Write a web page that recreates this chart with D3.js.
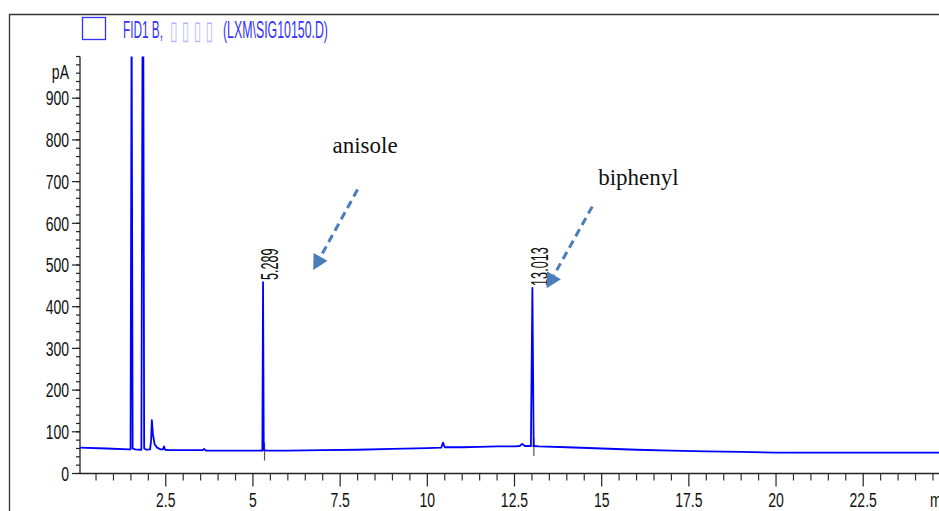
<!DOCTYPE html>
<html><head><meta charset="utf-8">
<script src="https://cdn.jsdelivr.net/npm/d3@7"></script>
<style>
html,body{margin:0;padding:0;background:#fff;}
svg{display:block;}
</style></head>
<body>
<svg id="chart" width="939" height="511"></svg>
<script>
// ---- data ----
const traceTime = [0, 0.8, 1.45, 1.49, 1.52, 1.55, 1.62, 1.8, 1.835, 1.855, 1.88, 1.95, 2.05, 2.08, 2.1, 2.13, 2.18, 2.25, 2.35, 2.42, 2.45, 2.48, 2.6, 3.0, 3.55, 3.6, 3.65, 4.2, 4.7, 5.2, 5.27, 5.289, 5.31, 5.4, 6.0, 7.0, 8.0, 9.0, 10.0, 10.4, 10.45, 10.5, 11.0, 11.5, 12.0, 12.5, 12.65, 12.72, 12.8, 12.97, 13.013, 13.05, 13.2, 14.0, 15.0, 16.0, 17.0, 18.0, 19.0, 20.0, 21.0, 22.0, 23.0, 24.0, 25.0];
const tracePA   = [62, 60, 58, 58, 1100, 60, 58, 57, 1100, 1100, 60, 57, 58, 80, 128, 95, 70, 62, 58, 58, 65, 57, 56, 56, 56, 59, 55, 55, 55, 55, 55, 459, 56, 55, 55, 56, 57, 59, 61, 62, 74, 63, 63, 64, 65, 65, 66, 71, 66, 66, 445, 66, 65, 63, 60, 57, 55, 53, 52, 50, 50, 50, 50, 50, 50];
const peakTimes  = [5.289, 13.013];
const peakHeights = [459, 445];
const peakLabels = ["5.289", "13.013"];
const xMajorTicks = [2.5, 5, 7.5, 10, 12.5, 15, 17.5, 20, 22.5];
const xTickLabels = ["2.5", "5", "7.5", "10", "12.5", "15", "17.5", "20", "22.5"];
const yMajorTicks = [0, 100, 200, 300, 400, 500, 600, 700, 800, 900];
const yTickLabels = ["0", "100", "200", "300", "400", "500", "600", "700", "800", "900"];
const titleParts = ["FID1 B,", "\u25AF \u25AF \u25AF \u25AF", "(LXM\\SIG10150.D)"];
const annoNames = ["anisole", "biphenyl"];
const annoTextPos = [[7.28, 768], [14.9, 692]];
const annoArrowFrom = [[8.0, 681], [14.73, 640]];
const annoArrowTo = [[6.73, 488], [13.42, 444]];

// ---- setup ----
const svg = d3.select("#chart");
const W = 939, H = 511;
const x = d3.scaleLinear().domain([0, 25]).range([78.6, 950.4]);
const y = d3.scaleLinear().domain([0, 1000]).range([473.5, 56.5]);
const sans = "'Liberation Sans', Arial, sans-serif";
const serif = "'Liberation Serif', 'Times New Roman', serif";

function condense(sel, k) {
  sel.each(function () {
    const w = this.getComputedTextLength();
    d3.select(this).attr("textLength", w * k).attr("lengthAdjust", "spacingAndGlyphs");
  });
}

svg.append("rect").attr("width", W).attr("height", H).attr("fill", "#fff");

// frame
svg.append("path").attr("d", `M9.5,${H} L9.5,14.5 L${W},14.5`)
  .attr("fill", "none").attr("stroke", "#333").attr("stroke-width", 1.3);

// title / legend
svg.append("rect").attr("x", 82.5).attr("y", 17.5).attr("width", 23).attr("height", 22)
  .attr("fill", "none").attr("stroke", "#3333ff").attr("stroke-width", 1.3);
const titleX = [123, 170, 223], titleW = [40, 43, 105];
const titleFill = ["#3333ff", "#b4b8ff", "#3333ff"];
svg.selectAll("text.tt").data(titleParts).join("text").attr("class", "tt")
  .attr("font-family", (d, i) => i === 1 ? "'DejaVu Sans', sans-serif" : sans)
  .attr("font-size", (d, i) => i === 1 ? 26 : 23.5)
  .attr("fill", (d, i) => titleFill[i])
  .text(d => d)
  .each(function (d, i) {
    const w = this.getComputedTextLength();
    d3.select(this).attr("transform", `translate(${titleX[i]},${i === 1 ? 38.5 : 37.5}) scale(${titleW[i] / w},1)`);
  });

// y axis
const yAxisG = svg.append("g").attr("transform", "translate(80,0)");
yAxisG.append("line").attr("x1", 0).attr("x2", 0).attr("y1", y(0)).attr("y2", y(1000))
  .attr("stroke", "#222").attr("stroke-width", 1.3);
const yMinor = d3.range(0, 1001, 20);
yAxisG.selectAll("line.ymin").data(yMinor).join("line").attr("class", "ymin")
  .attr("x1", -4).attr("x2", 0).attr("y1", d => y(d)).attr("y2", d => y(d))
  .attr("stroke", "#222").attr("stroke-width", 1.2);
yAxisG.selectAll("line.ymaj").data(yMajorTicks).join("line").attr("class", "ymaj")
  .attr("x1", -8).attr("x2", 0).attr("y1", d => y(d)).attr("y2", d => y(d))
  .attr("stroke", "#222").attr("stroke-width", 1.2);
const yl = yAxisG.selectAll("text.yl").data(yMajorTicks).join("text").attr("class", "yl")
  .attr("x", -11).attr("y", d => y(d)).attr("dy", "0.36em")
  .attr("text-anchor", "end").attr("font-family", sans).attr("font-size", 20).attr("fill", "#111")
  .text((d, i) => yTickLabels[i]);
condense(yl, 0.7);
const pa = yAxisG.append("text").attr("x", -11).attr("y", y(963)).attr("dy", "0.36em")
  .attr("text-anchor", "end").attr("font-family", sans).attr("font-size", 20).attr("fill", "#111").text("pA");
condense(pa, 0.7);

// x axis
const xAxisG = svg.append("g").attr("transform", `translate(0,${y(0)})`);
xAxisG.append("line").attr("x1", 80).attr("x2", W).attr("y1", 0).attr("y2", 0)
  .attr("stroke", "#222").attr("stroke-width", 1.3);
const xMinor = d3.range(0.5, 25.01, 0.5).filter(v => Math.abs(v / 2.5 - Math.round(v / 2.5)) > 1e-6);
xAxisG.selectAll("line.xmin").data(xMinor).join("line").attr("class", "xmin")
  .attr("x1", d => x(d)).attr("x2", d => x(d)).attr("y1", 0).attr("y2", 7)
  .attr("stroke", "#333").attr("stroke-width", 1.2);
xAxisG.selectAll("line.xmaj").data(xMajorTicks).join("line").attr("class", "xmaj")
  .attr("x1", d => x(d)).attr("x2", d => x(d)).attr("y1", 0).attr("y2", 13)
  .attr("stroke", "#222").attr("stroke-width", 1.2);
const xl = xAxisG.selectAll("text.xl").data(xMajorTicks).join("text").attr("class", "xl")
  .attr("x", d => x(d)).attr("y", 33).attr("text-anchor", "middle")
  .attr("font-family", sans).attr("font-size", 20).attr("fill", "#111")
  .text((d, i) => xTickLabels[i]);
condense(xl, 0.7);
const minL = xAxisG.append("text").attr("x", 930).attr("y", 33)
  .attr("font-family", sans).attr("font-size", 20).attr("fill", "#111").text("min");
condense(minL, 0.7);

// clip
svg.append("clipPath").attr("id", "plotclip").append("rect")
  .attr("x", 80).attr("y", y(1000)).attr("width", W - 80).attr("height", y(0) - y(1000) + 40);

// integration markers
const base = t => {
  let i = d3.bisectLeft(traceTime, t);
  return tracePA[Math.max(0, i - 2)];
};
const mk = svg.append("g");
peakTimes.forEach((t, i) => {
  const b = base(t);
  mk.append("line").attr("x1", x(t) + 1.5).attr("x2", x(t) + 1.5)
    .attr("y1", y(b) - 8).attr("y2", y(b) + 10).attr("stroke", "#555").attr("stroke-width", 1.2);
  mk.append("line").attr("x1", x(t) - 3).attr("x2", x(t) + 3)
    .attr("y1", y(b)).attr("y2", y(b)).attr("stroke", "#ff44cc").attr("stroke-width", 1.5);
});

// trace
const line = d3.line().x((d, i) => x(traceTime[i])).y((d, i) => y(tracePA[i]));
svg.append("path").datum(tracePA).attr("clip-path", "url(#plotclip)")
  .attr("d", line).attr("fill", "none").attr("stroke", "#0000ff").attr("stroke-width", 1.8)
  .attr("stroke-linejoin", "round");

// peak labels
const pl = svg.selectAll("text.pl").data(peakTimes).join("text").attr("class", "pl")
  .attr("transform", (d, i) => `translate(${x(d) + 7},${y(peakHeights[i]) - 2}) rotate(-90)`)
  .attr("dy", "0.36em").attr("font-family", sans).attr("font-size", 23).attr("fill", "#111")
  .text((d, i) => peakLabels[i]);
condense(pl, 0.55);

// annotations
const arrowColor = "#4a7ebb";
annoNames.forEach((n, i) => {
  svg.append("text").attr("x", x(annoTextPos[i][0])).attr("y", y(annoTextPos[i][1]))
    .attr("font-family", serif).attr("font-size", 23).attr("fill", "#111").text(n);
  const [x0, y0] = [x(annoArrowFrom[i][0]), y(annoArrowFrom[i][1])];
  const [x1, y1] = [x(annoArrowTo[i][0]), y(annoArrowTo[i][1])];
  const L = Math.hypot(x1 - x0, y1 - y0), ux = (x1 - x0) / L, uy = (y1 - y0) / L;
  const hl = 15;
  svg.append("line").attr("x1", x0).attr("y1", y0).attr("x2", x1 - ux * hl).attr("y2", y1 - uy * hl)
    .attr("stroke", arrowColor).attr("stroke-width", 3).attr("stroke-dasharray", "8,5");
  const px = -uy, py = ux, hw = 8;
  const bx = x1 - ux * hl, by = y1 - uy * hl;
  svg.append("path").attr("d", `M${x1},${y1} L${bx + px * hw},${by + py * hw} L${bx - px * hw},${by - py * hw} Z`)
    .attr("fill", arrowColor);
});
</script>
</body></html>
